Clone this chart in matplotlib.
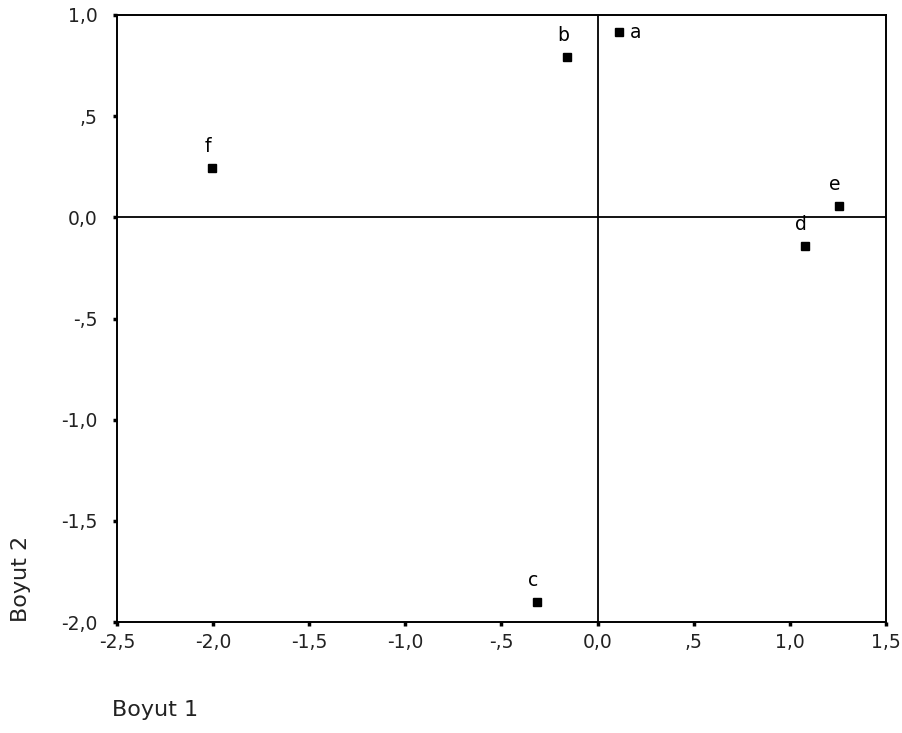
import matplotlib

matplotlib.use("Agg")
import matplotlib.pyplot as plt
from matplotlib.ticker import FuncFormatter

labels = ["a", "b", "c", "d", "e", "f"]
dim1 = [0.11, -0.16, -0.315, 1.08, 1.255, -2.005]
dim2 = [0.915, 0.79, -1.90, -0.143, 0.054, 0.242]
x_ticks = [-2.5, -2.0, -1.5, -1.0, -0.5, 0.0, 0.5, 1.0, 1.5]
y_ticks = [-2.0, -1.5, -1.0, -0.5, 0.0, 0.5, 1.0]

plt.rcParams["font.family"] = ["DejaVu Sans"]


def spss_fmt(v, pos=None):
    # SPSS style: comma decimal, no leading zero below 1
    if abs(v) < 1e-9:
        return "0,0"
    s = f"{v:.1f}".replace(".", ",")
    if abs(v) < 1:
        s = s.replace("0,", ",")
    return s


fig = plt.figure(figsize=(9.02, 7.33), dpi=100)
ax = fig.add_axes([117 / 902, 1 - 622 / 733, 769 / 902, 607 / 733])

ax.axhline(0, color="black", lw=1.3, zorder=1)
ax.axvline(0, color="black", lw=1.3, zorder=1)
ax.plot(dim1, dim2, ls="none", marker="s", ms=6.3, color="black", zorder=3)

for lab, x, y in zip(labels, dim1, dim2):
    if lab == "a":
        ax.annotate(lab, (x, y), xytext=(17, -6), textcoords="offset pixels",
                    ha="center", va="baseline", fontsize=13.5)
    else:
        ax.annotate(lab, (x, y), xytext=(-4, 16), textcoords="offset pixels",
                    ha="center", va="baseline", fontsize=13.5)

ax.set_xlim(-2.5, 1.5)
ax.set_ylim(-2.0, 1.0)
ax.set_xticks(x_ticks)
ax.set_yticks(y_ticks)
ax.xaxis.set_major_formatter(FuncFormatter(spss_fmt))
ax.yaxis.set_major_formatter(FuncFormatter(spss_fmt))
ax.tick_params(direction="out", length=3, width=2.5, labelsize=13.5,
               color="black", labelcolor="#222222")
ax.tick_params(axis="y", pad=11)
ax.tick_params(axis="x", pad=5)
for sp in ax.spines.values():
    sp.set_linewidth(1.4)

fig.text(21 / 902, 1 - 622 / 733, "Boyut 2", rotation=90, ha="center",
         va="bottom", fontsize=16, color="#222222")
fig.text(112 / 902, 1 - 710 / 733, "Boyut 1", ha="left", va="center",
         fontsize=16, color="#222222")

fig.savefig("out.png", dpi=100)
